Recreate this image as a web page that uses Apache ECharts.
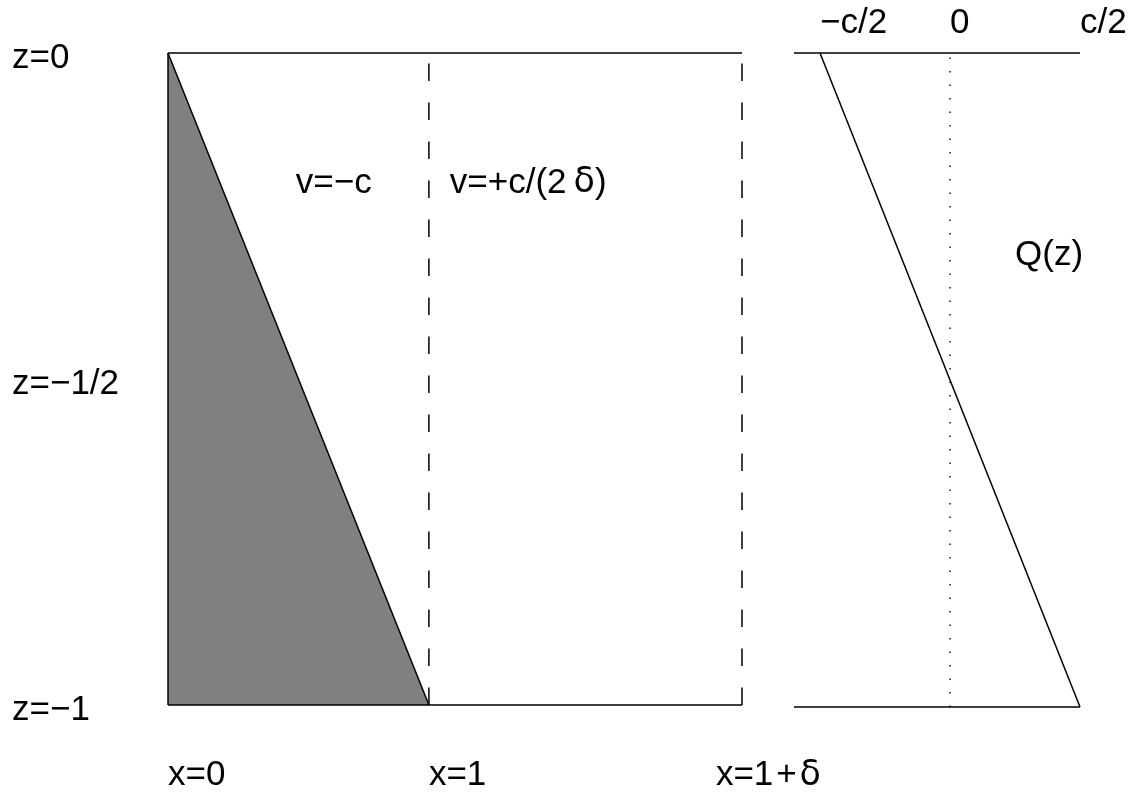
<!DOCTYPE html>
<html>
<head>
<meta charset="utf-8">
<script src="https://cdn.jsdelivr.net/npm/echarts@6/dist/echarts.min.js"></script>
<style>
  html, body { margin: 0; padding: 0; background: #ffffff; }
  #chart { width: 1135px; height: 793px; }
</style>
</head>
<body>
<div id="chart"></div>
<script>
// Geometry of the channel (left) and the flux profile Q(z) (right)
const delta = 1.2;

// depth ticks
const zTicks = [0, -0.5, -1];
const zTickLabels = ['z=0', 'z=\u22121/2', 'z=\u22121'];

// horizontal positions along the bottom
const xLabelAt = [0, 1, 1 + delta - 0.1];
const xLabelText = ['x=0', 'x=1', 'x=1\u200a+\u200a{d|\u03b4}'];

// flux axis, in units of c/2
const qTicks = [-1, 0, 1];
const qTickLabels = ['\u2212c/2', '0', 'c/2'];

// shaded wedge boundary: from (0,0) down to (1,-1)
const wedgeEdge = [[0, 0], [1, -1]];
const wallLeft = [[0, 0], [0, -1]];
const boxTop = [[0, 0], [1 + delta, 0]];
const boxBottom = [[0, -1], [1 + delta, -1]];
const dashedWalls = [1, 1 + delta];

// Q(z) profile and its frame
const qLine = [[-1, 0], [1, -1]];
const qTop = [[-1.2, 0], [1, 0]];
const qBottom = [[-1.2, -1], [1, -1]];
const qZero = [[0, -1], [0, 0]];

// annotation texts: [x, z, text]
const channelNotes = [[0.49, -0.2, 'v=\u2212c'], [1.08, -0.2, 'v=+c/(2\u2009{d|\u03b4})']];
const profileNotes = [[0.5, -0.31, 'Q(z)']];

const FONT = '"Liberation Sans", Arial, Helvetica, sans-serif';
const GREEK = '"DejaVu Sans", "Liberation Sans", sans-serif';
const FS = 35;
const INK = '#000000';
const LW = 1.5;

// wider Greek glyph, as in a symbol font
const greekRich = { d: { fontFamily: GREEK, fontSize: FS, color: INK } };

function plain(grid, data, extra) {
  return Object.assign({
    type: 'line', xAxisIndex: grid, yAxisIndex: grid, data: data,
    symbol: 'none', silent: true, clip: false, animation: false,
    lineStyle: { color: INK, width: LW }
  }, extra || {});
}

// free text placed at data coordinates; dx/dy nudge the anchor in pixels
function notes(grid, items, dx, dy) {
  return {
    type: 'custom', xAxisIndex: grid, yAxisIndex: grid, data: items,
    silent: true, clip: false, animation: false,
    renderItem: function (params, api) {
      const p = api.coord([api.value(0), api.value(1)]);
      return {
        type: 'text', x: p[0] + (dx || 0), y: p[1] + (dy || 0),
        style: {
          text: items[params.dataIndex][2], fill: INK,
          font: FS + 'px ' + FONT, align: 'left', verticalAlign: 'middle',
          rich: { d: { fontFamily: GREEK, fontSize: FS, fill: INK } }
        }
      };
    }
  };
}

function pick(values, texts) {
  return function (v) {
    const i = values.findIndex(function (a) { return Math.abs(a - v) < 1e-6; });
    return i >= 0 ? texts[i] : '';
  };
}

// depth labels sit at the left wall's tick heights, out in the margin
const depthLabels = zTicks.map(function (z, i) { return [0, z, zTickLabels[i]]; });

const hidden = { show: false };

const option = {
  backgroundColor: '#ffffff',
  animation: false,
  grid: [
    { left: 168, top: 53, width: 574, height: 654 },
    { left: 794, top: 53, width: 286, height: 654 }
  ],
  xAxis: [
    {
      type: 'value', gridIndex: 0, min: 0, max: 1 + delta, position: 'bottom',
      axisLine: hidden, axisTick: hidden, splitLine: hidden,
      axisLabel: {
        show: true, customValues: xLabelAt, align: 'left', verticalAlign: 'top',
        margin: 53, color: INK, fontSize: FS, fontFamily: FONT, hideOverlap: false,
        rich: greekRich,
        formatter: pick(xLabelAt, xLabelText)
      }
    },
    {
      type: 'value', gridIndex: 1, min: -1.2, max: 1, position: 'top',
      axisLine: hidden, axisTick: hidden, splitLine: hidden,
      axisLabel: {
        show: true, customValues: qTicks, align: 'left', verticalAlign: 'bottom',
        margin: 12, color: INK, fontSize: FS, fontFamily: FONT, hideOverlap: false,
        formatter: pick(qTicks, qTickLabels)
      }
    }
  ],
  yAxis: [
    {
      type: 'value', gridIndex: 0, min: -1, max: 0,
      axisLine: hidden, axisTick: hidden, splitLine: hidden, axisLabel: hidden
    },
    {
      type: 'value', gridIndex: 1, min: -1, max: 0,
      axisLine: hidden, axisTick: hidden, splitLine: hidden, axisLabel: hidden
    }
  ],
  series: [
    // shaded wedge between the sloping edge and the floor
    plain(0, wedgeEdge, { areaStyle: { color: '#808080', opacity: 1, origin: 'start' }, z: 1 }),
    plain(0, wallLeft, { z: 3 }),
    plain(0, boxTop, { z: 3 }),
    plain(0, boxBottom, { z: 3 }),
    plain(0, [[dashedWalls[0], -1], [dashedWalls[0], 0]], { lineStyle: { color: INK, width: LW, type: [17.5, 21.5] }, z: 3 }),
    plain(0, [[dashedWalls[1], -1], [dashedWalls[1], 0]], { lineStyle: { color: INK, width: LW, type: [17.5, 21.5] }, z: 3 }),
    notes(0, channelNotes),
    notes(0, depthLabels, -156, 5),
    // flux profile panel
    plain(1, qTop),
    plain(1, qBottom),
    plain(1, qZero, { lineStyle: { color: INK, width: 1.4, type: [1.4, 12.1] } }),
    plain(1, qLine),
    notes(1, profileNotes)
  ]
};

const chart = echarts.init(document.getElementById('chart'), null, { renderer: 'canvas' });
chart.setOption(option);
</script>
</body>
</html>
